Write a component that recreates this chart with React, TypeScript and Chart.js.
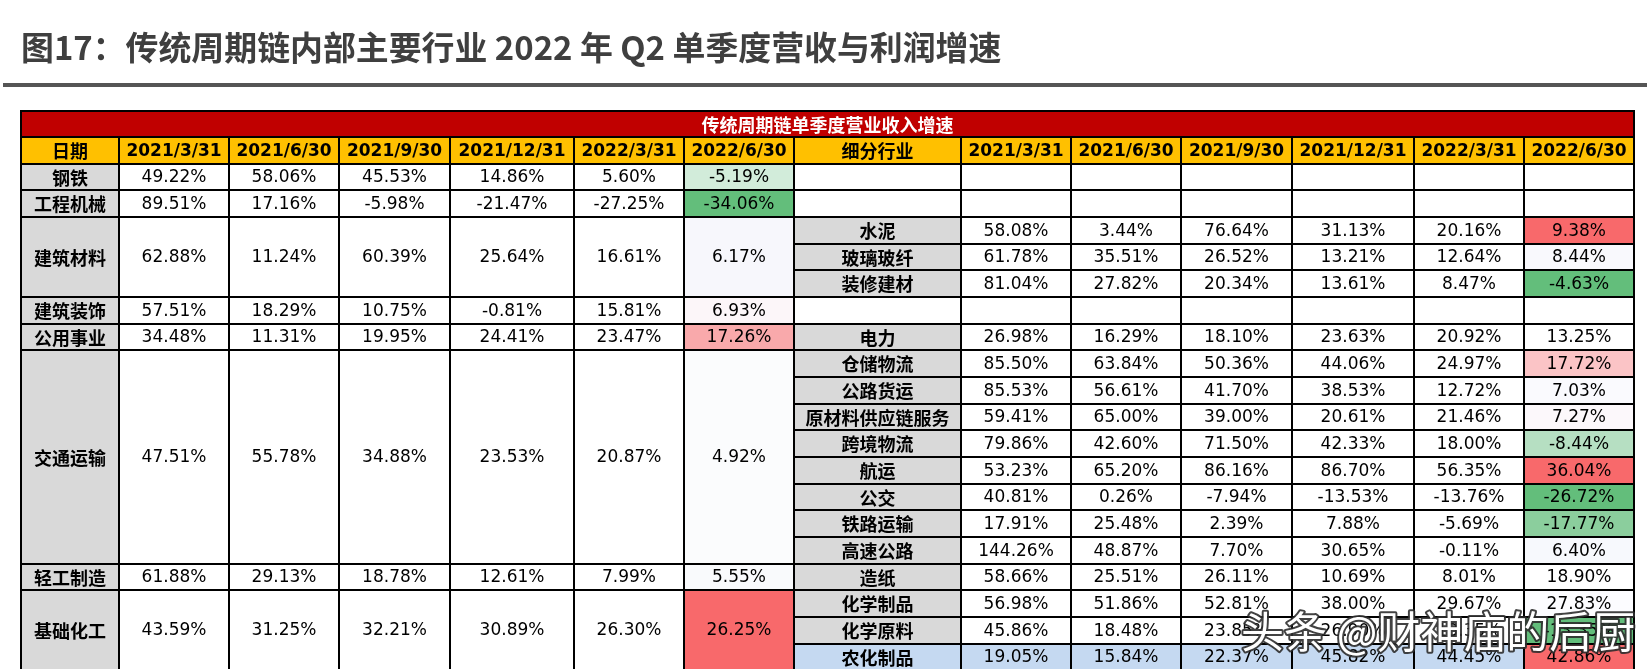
import React, { useEffect, useRef } from 'react';
import { Chart, registerables } from 'chart.js';

Chart.register(...registerables);

const pageTitle = '图17：传统周期链内部主要行业 2022 年 Q2 单季度营收与利润增速';
const tableTitle = '传统周期链单季度营业收入增速';
const leftHeader = '日期';
const rightHeader = '细分行业';
const dates = ['2021/3/31', '2021/6/30', '2021/9/30', '2021/12/31', '2022/3/31', '2022/6/30'];

const industries = ['钢铁', '工程机械', '建筑材料', '建筑装饰', '公用事业', '交通运输', '轻工制造', '基础化工'];
const industrySpans = [1, 1, 3, 1, 1, 8, 1, 3];
const industryGrowth = [
  [49.22, 58.06, 45.53, 14.86, 5.6, -5.19],
  [89.51, 17.16, -5.98, -21.47, -27.25, -34.06],
  [62.88, 11.24, 60.39, 25.64, 16.61, 6.17],
  [57.51, 18.29, 10.75, -0.81, 15.81, 6.93],
  [34.48, 11.31, 19.95, 24.41, 23.47, 17.26],
  [47.51, 55.78, 34.88, 23.53, 20.87, 4.92],
  [61.88, 29.13, 18.78, 12.61, 7.99, 5.55],
  [43.59, 31.25, 32.21, 30.89, 26.3, 26.25],
];

const subIndustries = ['', '', '水泥', '玻璃玻纤', '装修建材', '', '电力', '仓储物流', '公路货运', '原材料供应链服务', '跨境物流', '航运', '公交', '铁路运输', '高速公路', '造纸', '化学制品', '化学原料', '农化制品'];
const subGrowth: (number[] | null)[] = [
  null,
  null,
  [58.08, 3.44, 76.64, 31.13, 20.16, 9.38],
  [61.78, 35.51, 26.52, 13.21, 12.64, 8.44],
  [81.04, 27.82, 20.34, 13.61, 8.47, -4.63],
  null,
  [26.98, 16.29, 18.1, 23.63, 20.92, 13.25],
  [85.5, 63.84, 50.36, 44.06, 24.97, 17.72],
  [85.53, 56.61, 41.7, 38.53, 12.72, 7.03],
  [59.41, 65.0, 39.0, 20.61, 21.46, 7.27],
  [79.86, 42.6, 71.5, 42.33, 18.0, -8.44],
  [53.23, 65.2, 86.16, 86.7, 56.35, 36.04],
  [40.81, 0.26, -7.94, -13.53, -13.76, -26.72],
  [17.91, 25.48, 2.39, 7.88, -5.69, -17.77],
  [144.26, 48.87, 7.7, 30.65, -0.11, 6.4],
  [58.66, 25.51, 26.11, 10.69, 8.01, 18.9],
  [56.98, 51.86, 52.81, 38.0, 29.67, 27.83],
  [45.86, 18.48, 23.85, 26.9, 13.35, -13.35],
  [19.05, 15.84, 22.37, 45.82, 44.45, 42.86],
];

const watermark = '头条 @财神庙的后厨';

// ---- styles (kept apart from the data) ----
const industryLastFill = ['#D2ECDA', '#63BE7B', '#F7F7FC', '#FCF6F9', '#F9A9AB', '#FBFCFD', '#F9FAFC', '#F8696B'];
const subLastFill = ['#FFFFFF', '#FFFFFF', '#F8696B', '#F9F9FD', '#63BE7B', '#FFFFFF', '#FFFFFF', '#FBC4C6', '#FAFAFE', '#FCF8FB', '#B6DFC2', '#F8696B', '#63BE7B', '#8BCE9D', '#F7F9FD', '#FFFFFF', '#FCFCFF', '#63BE7B', '#F8696B'];
const highlightRow = '农化制品';
const colUnits = [98, 110, 110, 110, 124, 110, 110, 167, 110, 110, 110, 122, 110, 110];
const RED = '#C00000';
const YELLOW = '#FFC000';
const GRAY = '#D9D9D9';
const BLUE = '#C5D9F1';
const NUM_FONT = "17px 'DejaVu Sans', 'Noto Sans CJK SC', sans-serif";
const HEAD_FONT = "bold 17px 'DejaVu Sans', 'Noto Sans CJK SC', sans-serif";
const LABEL_FONT = "bold 18px 'Noto Sans CJK SC', sans-serif";

const fmt = (v: number) => v.toFixed(2) + '%';

const tablePlugin = {
  id: 'growthTable',
  afterDraw(chart: any) {
    const ctx: CanvasRenderingContext2D = chart.ctx;
    const xs = chart.scales.x;
    const ys = chart.scales.y;
    const edges: number[] = [0];
    colUnits.forEach((w) => edges.push(edges[edges.length - 1] + w));
    const X = (c: number) => Math.round(xs.getPixelForValue(edges[c]));
    const Y = (r: number) => Math.round(ys.getPixelForValue(r));

    type Cell = { c0: number; c1: number; r0: number; r1: number; fill: string; text?: string; font?: string; color?: string };
    const cells: Cell[] = [];

    cells.push({ c0: 0, c1: 14, r0: 0, r1: 1, fill: RED, text: tableTitle, font: LABEL_FONT, color: '#FFFFFF' });
    cells.push({ c0: 0, c1: 1, r0: 1, r1: 2, fill: YELLOW, text: leftHeader, font: LABEL_FONT, color: '#000' });
    dates.forEach((d, i) => cells.push({ c0: 1 + i, c1: 2 + i, r0: 1, r1: 2, fill: YELLOW, text: d, font: HEAD_FONT, color: '#000' }));
    cells.push({ c0: 7, c1: 8, r0: 1, r1: 2, fill: YELLOW, text: rightHeader, font: LABEL_FONT, color: '#000' });
    dates.forEach((d, i) => cells.push({ c0: 8 + i, c1: 9 + i, r0: 1, r1: 2, fill: YELLOW, text: d, font: HEAD_FONT, color: '#000' }));

    let r = 2;
    industries.forEach((name, i) => {
      const span = industrySpans[i];
      cells.push({ c0: 0, c1: 1, r0: r, r1: r + span, fill: GRAY, text: name, font: LABEL_FONT, color: '#000' });
      industryGrowth[i].forEach((v, j) => {
        const fill = j === 5 ? industryLastFill[i] : '#FFFFFF';
        cells.push({ c0: 1 + j, c1: 2 + j, r0: r, r1: r + span, fill, text: fmt(v), font: NUM_FONT, color: '#000' });
      });
      r += span;
    });

    subIndustries.forEach((name, i) => {
      const row = 2 + i;
      const vals = subGrowth[i];
      const hl = name === highlightRow;
      cells.push({ c0: 7, c1: 8, r0: row, r1: row + 1, fill: name ? (hl ? BLUE : GRAY) : '#FFFFFF', text: name, font: LABEL_FONT, color: '#000' });
      for (let j = 0; j < 6; j++) {
        const fill = j === 5 ? subLastFill[i] : hl ? BLUE : '#FFFFFF';
        cells.push({ c0: 8 + j, c1: 9 + j, r0: row, r1: row + 1, fill, text: vals ? fmt(vals[j]) : '', font: NUM_FONT, color: '#000' });
      }
    });

    ctx.save();
    ctx.fillStyle = '#3F3F3F';
    ctx.textBaseline = 'middle';
    ctx.textAlign = 'left';
    ctx.font = "bold 32px 'Noto Sans CJK SC', sans-serif";
    const tw = ctx.measureText(pageTitle).width;
    const size = 32 * 980 / tw;
    ctx.font = `bold ${size.toFixed(1)}px 'Noto Sans CJK SC', sans-serif`;
    ctx.fillText(pageTitle, 21, 47);
    ctx.fillStyle = '#555555';
    ctx.fillRect(3, 83, 1644, 4);

    cells.forEach((c) => {
      const x0 = X(c.c0), x1 = X(c.c1), y0 = Y(c.r0), y1 = Y(c.r1);
      ctx.fillStyle = c.fill;
      ctx.fillRect(x0, y0, x1 - x0, y1 - y0);
      if (c.text) {
        ctx.font = c.font || NUM_FONT;
        ctx.fillStyle = c.color || '#000';
        ctx.textAlign = 'center';
        ctx.textBaseline = 'middle';
        ctx.fillText(c.text, (x0 + x1) / 2, (y0 + y1) / 2 + 1);
      }
    });
    ctx.strokeStyle = '#000';
    ctx.lineWidth = 2;
    cells.forEach((c) => {
      const x0 = X(c.c0), x1 = X(c.c1), y0 = Y(c.r0), y1 = Y(c.r1);
      ctx.strokeRect(x0, y0, x1 - x0, y1 - y0);
    });

    // watermark
    ctx.font = "43px 'Noto Sans CJK SC', sans-serif";
    ctx.textAlign = 'left';
    ctx.textBaseline = 'middle';
    ctx.lineJoin = 'round';
    ctx.lineWidth = 4;
    ctx.strokeStyle = 'rgba(45,45,45,0.9)';
    ctx.strokeText(watermark, 1241, 632);
    ctx.fillStyle = '#FFFFFF';
    ctx.fillText(watermark, 1241, 632);
    ctx.restore();
  },
};

export default function App() {
  const canvasRef = useRef<HTMLCanvasElement | null>(null);
  useEffect(() => {
    if (!canvasRef.current) return;
    const total = colUnits.reduce((a, b) => a + b, 0);
    const chart = new Chart(canvasRef.current, {
      type: 'scatter',
      data: { datasets: [] },
      options: {
        responsive: false,
        animation: false,
        devicePixelRatio: 1,
        layout: { padding: { left: 21, right: 13, top: 110.5, bottom: 0 } },
        scales: {
          x: { type: 'linear', min: 0, max: total, display: false },
          y: { type: 'linear', min: 0, max: 558.5 / 26.65, reverse: true, display: false },
        },
        plugins: { legend: { display: false }, tooltip: { enabled: false }, title: { display: false } },
      },
      plugins: [tablePlugin],
    } as any);
    return () => chart.destroy();
  }, []);
  return (
    <div style={{ position: 'absolute', left: 0, top: 0, width: 1647, height: 669, background: '#fff' }}>
      <canvas ref={canvasRef} width={1647} height={669} style={{ display: 'block' }} />
    </div>
  );
}
